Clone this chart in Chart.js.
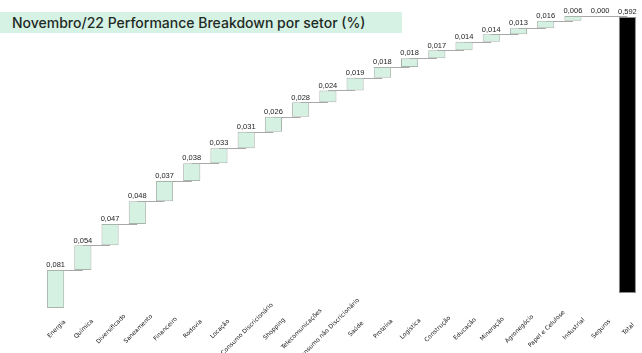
<!DOCTYPE html>
<html>
<head>
<meta charset="utf-8">
<script src="https://cdn.jsdelivr.net/npm/chart.js@4.4.1/dist/chart.umd.min.js"></script>
<style>
    body { margin: 0; background: #fff; }
    #wrap { position: relative; width: 642px; height: 353px; }
    #title {
        position: absolute; left: 0; top: 12px; width: 402px; height: 21px;
        background: #d5f2e4; color: #1f2a24; font: 500 14px Inter, sans-serif;
        line-height: 21px; padding-left: 12px; box-sizing: border-box; white-space: nowrap;
    }
</style>
</head>
<body>
<div id="wrap">
    <canvas id="chart" width="642" height="353"></canvas>
    <div id="title">Novembro/22 Performance Breakdown por setor (%)</div>
</div>
<script>
// Sectors, left to right (last one is the total)
const categories = [
    'Energia', 'Química', 'Diversificado', 'Saneamento', 'Financeiro', 'Rodovia', 'Locação',
    'Consumo Discricionário', 'Shopping', 'Telecomunicações', 'Consumo não Discricionário',
    'Saúde', 'Proteína', 'Logística', 'Construção', 'Educação', 'Mineração', 'Agronegócio',
    'Papel e Celulose', 'Industrial', 'Seguros', 'Total'
];

// Step heights as drawn in the picture (one per sector, total excluded)
const values = [
    0.081, 0.053, 0.045, 0.049, 0.043, 0.038, 0.032, 0.035, 0.032, 0.031, 0.025,
    0.027, 0.023, 0.019, 0.017, 0.018, 0.016, 0.013, 0.016, 0.010, 0.000
];

// Printed labels above each bar
const valueLabels = [
    '0,081', '0,054', '0,047', '0,048', '0,037', '0,038', '0,033', '0,031', '0,026', '0,028', '0,024',
    '0,019', '0,018', '0,018', '0,017', '0,014', '0,014', '0,013', '0,016', '0,006', '0,000', '0,592'
];

// Total bar as drawn (start, end)
const totalRange = [0.032, 0.621];

// Build floating bars for the waterfall
const ranges = [];
let cum = 0;
values.forEach(v => {
    ranges.push([cum, cum + v]);
    cum += v;
});
ranges.push(totalRange);

const fillColors = categories.map((c, i) => i === categories.length - 1 ? '#000000' : '#d5f1e2');
const borderColors = categories.map((c, i) => i === categories.length - 1 ? '#8a8a8a' : '#a9b4ad');

// Step connectors, drawn under the bars
const connectorPlugin = {
    id: 'connectors',
    beforeDatasetsDraw(chart) {
        const { ctx, scales: { x, y } } = chart;
        ctx.save();
        ctx.strokeStyle = '#a8a8a8';
        ctx.lineWidth = 1;
        for (let i = 0; i < values.length; i++) {
            const yy = Math.round(y.getPixelForValue(ranges[i][1])) + 0.5;
            ctx.beginPath();
            ctx.moveTo(x.getPixelForValue(i), yy);
            ctx.lineTo(x.getPixelForValue(i + 1), yy);
            ctx.stroke();
        }
        ctx.restore();
    }
};

// Value labels on top of each bar + rotated category labels
const labelPlugin = {
    id: 'labels',
    afterDatasetsDraw(chart) {
        const { ctx, scales: { x } } = chart;
        const meta = chart.getDatasetMeta(0);
        ctx.save();
        ctx.fillStyle = '#222';
        ctx.font = '7.5px "Liberation Sans", sans-serif';
        ctx.textAlign = 'center';
        ctx.textBaseline = 'bottom';
        meta.data.forEach((bar, i) => {
            const top = Math.min(bar.y, bar.base);
            ctx.fillText(valueLabels[i], bar.x, top - 1);
        });

        ctx.font = '6px "DejaVu Sans", sans-serif';
        ctx.fillStyle = '#111';
        ctx.textBaseline = 'middle';
        categories.forEach((c, i) => {
            ctx.save();
            ctx.translate(x.getPixelForValue(i) + 1, 329);
            ctx.rotate(-Math.PI / 4);
            ctx.fillText(c, 0, 0);
            ctx.restore();
        });
        ctx.restore();
    }
};

new Chart(document.getElementById('chart'), {
    type: 'bar',
    data: {
        labels: categories,
        datasets: [{
            data: ranges,
            backgroundColor: fillColors,
            borderColor: borderColors,
            borderWidth: 1,
            borderSkipped: false,
            barPercentage: 0.63,
            categoryPercentage: 1
        }]
    },
    options: {
        responsive: false,
        animation: false,
        devicePixelRatio: 1,
        layout: { padding: { top: 8, left: 42, right: 1, bottom: 0 } },
        plugins: { legend: { display: false }, tooltip: { enabled: false }, title: { display: false } },
        scales: {
            x: {
                grid: { display: false },
                border: { display: false },
                ticks: { display: false },
                afterFit: s => { s.height = 45; }
            },
            y: { display: false, min: 0, max: 0.64 }
        }
    },
    plugins: [connectorPlugin, labelPlugin]
});
</script>
</body>
</html>
